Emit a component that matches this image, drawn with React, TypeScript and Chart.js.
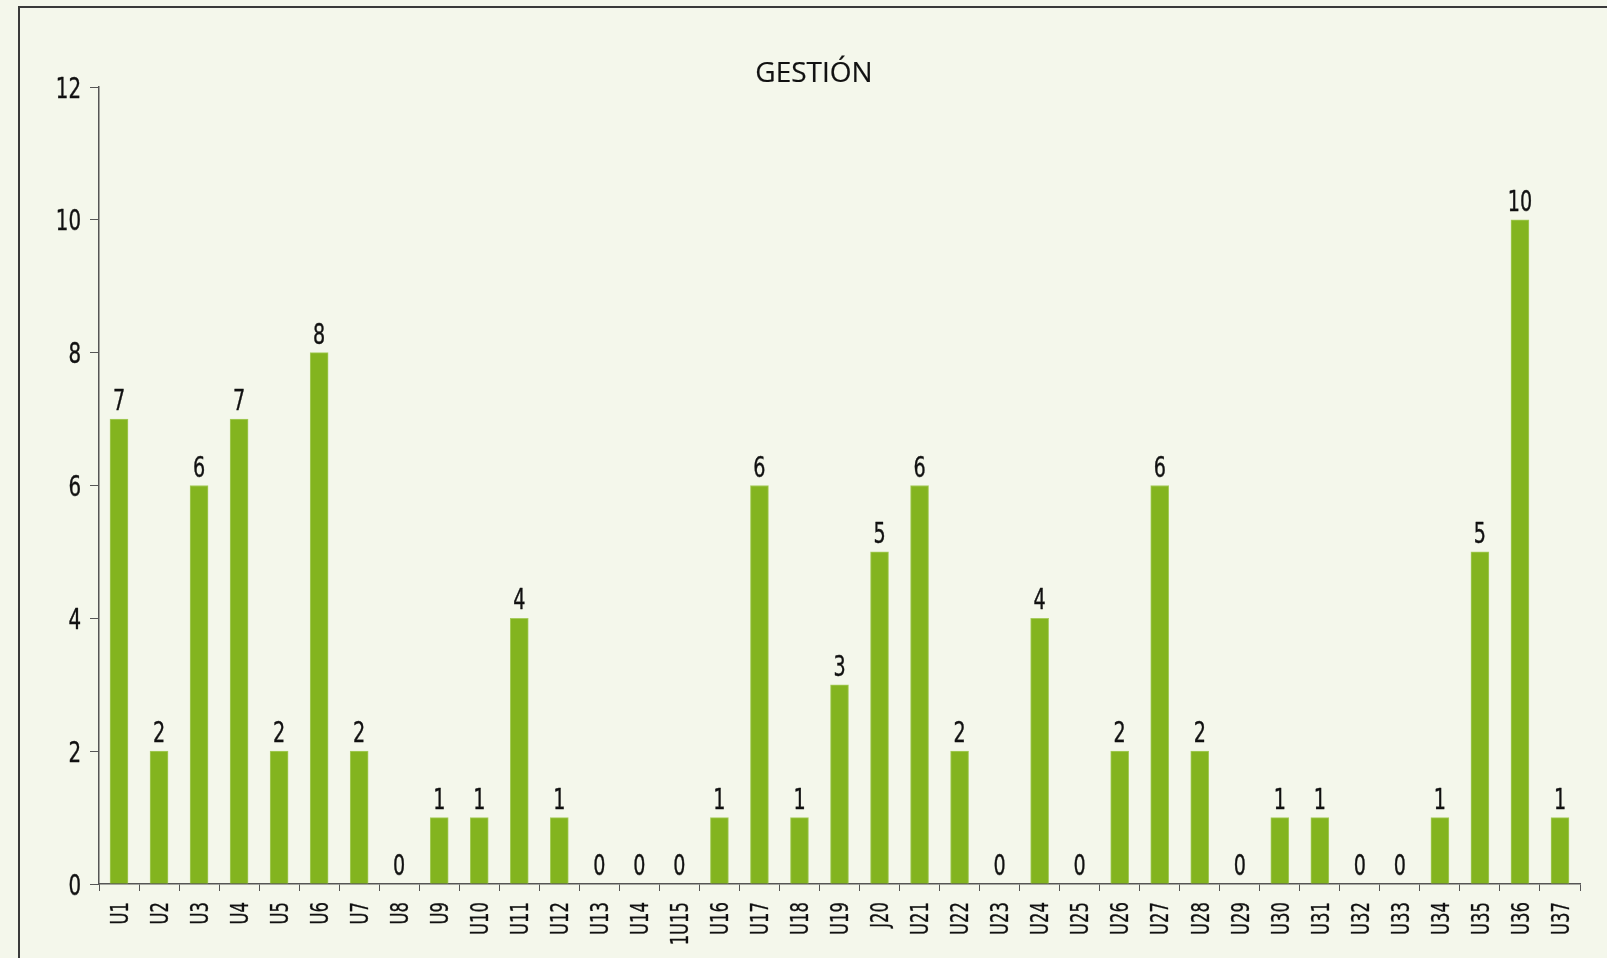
import React, { useEffect, useRef } from "react";
import { Chart, registerables } from "chart.js";

Chart.register(...registerables);

const categories = [
  "U1", "U2", "U3", "U4", "U5", "U6", "U7", "U8", "U9", "U10",
  "U11", "U12", "U13", "U14", "1U15", "U16", "U17", "U18", "U19", "J20",
  "U21", "U22", "U23", "U24", "U25", "U26", "U27", "U28", "U29", "U30",
  "U31", "U32", "U33", "U34", "U35", "U36", "U37",
];
const values = [
  7, 2, 6, 7, 2, 8, 2, 0, 1, 1,
  4, 1, 0, 0, 0, 1, 6, 1, 3, 5,
  6, 2, 0, 4, 0, 2, 6, 2, 0, 1,
  1, 0, 0, 1, 5, 10, 1,
];
const yTicks = [0, 2, 4, 6, 8, 10, 12];
const yTickLabels = ["0", "2", "4", "6", "8", "10", "12"];
const titleText = "GESTIÓN";

const BG = "#f4f7eb";
const BAR = "#83b41f";
const AXIS = "#555555";
const TEXT = "#111111";
const COND = "'DejaVu Sans Condensed', 'DejaVu Sans', sans-serif";
const SQUEEZE = 0.76;

export default function App() {
  const ref = useRef<HTMLCanvasElement | null>(null);

  useEffect(() => {
    document.body.style.margin = "0";
    document.body.style.background = BG;
    const canvas = ref.current;
    if (!canvas) return;

    const drawText = (ctx: any, t: string, x: number, y: number, lw: number) => {
      ctx.fillText(t, x, y);
      if (lw > 0) {
        ctx.lineWidth = lw;
        ctx.strokeText(t, x, y);
      }
    };

    const textPlugin = {
      id: "condensedText",
      afterDraw(chart: any) {
        const ctx = chart.ctx;
        const xs = chart.scales.x;
        const ys = chart.scales.y;
        const meta = chart.getDatasetMeta(0);
        ctx.save();
        ctx.fillStyle = TEXT;
        ctx.strokeStyle = TEXT;
        ctx.lineJoin = "round";

        // value labels
        const vSize = 28;
        ctx.font = `${vSize}px ${COND}`;
        ctx.textAlign = "center";
        ctx.textBaseline = "alphabetic";
        meta.data.forEach((el: any, i: number) => {
          ctx.save();
          ctx.translate(el.x, el.y - 9);
          ctx.scale(SQUEEZE, 1);
          drawText(ctx, String(values[i]), 0, 0, 0.4);
          ctx.restore();
        });

        // y tick labels
        const ySize = 29;
        ctx.font = `${ySize}px ${COND}`;
        ctx.textAlign = "right";
        yTicks.forEach((v, i) => {
          const y = ys.getPixelForValue(v);
          ctx.save();
          ctx.translate(ys.right - 18, y);
          ctx.scale(SQUEEZE, 1);
          drawText(ctx, yTickLabels[i], 0, ySize * 0.365, 0.4);
          ctx.restore();
        });

        // x tick labels (rotated, reading upward)
        const xSize = 24;
        ctx.font = `${xSize}px ${COND}`;
        ctx.textAlign = "right";
        categories.forEach((c, i) => {
          const x = xs.getPixelForValue(i);
          ctx.save();
          ctx.translate(x, xs.top + 18);
          ctx.rotate(-Math.PI / 2);
          ctx.scale(SQUEEZE, 1);
          drawText(ctx, c, 0, xSize * 0.365, 0.3);
          ctx.restore();
        });

        // title
        ctx.font = "28px 'Open Sans', sans-serif";
        ctx.textAlign = "center";
        drawText(ctx, titleText, 814, 82, 0.2);
        ctx.restore();
      },
    };

    const chart = new Chart(canvas, {
      type: "bar",
      data: {
        labels: categories,
        datasets: [
          {
            data: values,
            backgroundColor: BAR,
            borderColor: "#a6cc5c",
            borderWidth: 1,
            barThickness: 18,
          },
        ],
      },
      options: {
        animation: false,
        responsive: false,
        maintainAspectRatio: false,
        layout: { padding: { left: 0, right: 27, top: 87, bottom: 0 } },
        plugins: {
          legend: { display: false },
          title: { display: false },
          tooltip: { enabled: false },
        },
        scales: {
          x: {
            afterFit(scale: any) {
              scale.height = 74;
            },
            grid: {
              display: true,
              drawOnChartArea: false,
              drawTicks: true,
              tickLength: 7,
              color: AXIS,
              offset: true,
            },
            border: { display: true, color: AXIS, width: 1.5 },
            ticks: { display: false, autoSkip: false },
          },
          y: {
            min: 0,
            max: 12,
            afterFit(scale: any) {
              scale.width = 99;
            },
            afterBuildTicks(scale: any) {
              scale.ticks = yTicks.map((v) => ({ value: v }));
            },
            grid: {
              display: true,
              drawOnChartArea: false,
              drawTicks: true,
              tickLength: 9,
              color: AXIS,
            },
            border: { display: true, color: AXIS, width: 1.5 },
            ticks: { display: false },
          },
        },
      },
      plugins: [textPlugin],
    });

    return () => chart.destroy();
  }, []);

  return (
    <div style={{ position: "relative", width: 1607, height: 958, background: BG, overflow: "hidden" }}>
      <canvas ref={ref} width={1607} height={958} style={{ display: "block", width: 1607, height: 958 }} />
      <div
        style={{
          position: "absolute",
          left: 18,
          top: 6,
          width: 1700,
          height: 1000,
          borderLeft: "2px solid #3a3a3a",
          borderTop: "2px solid #3a3a3a",
          pointerEvents: "none",
        }}
      />
    </div>
  );
}
